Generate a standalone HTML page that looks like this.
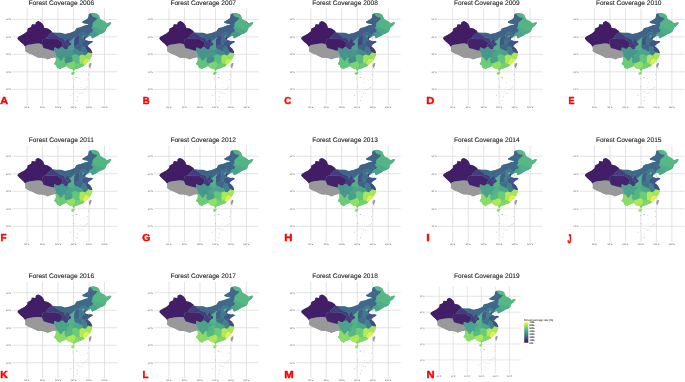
<!DOCTYPE html><html><head><meta charset="utf-8"><style>html,body{margin:0;padding:0;background:#fff;}svg{display:block;will-change:transform;text-rendering:geometricPrecision;font-family:"Liberation Sans",sans-serif;}</style></head><body>
<svg width="685" height="382" viewBox="0 0 685 382">
<rect width="685" height="382" fill="#fff"/>
<defs>
<clipPath id="cl"><path d="M17.40,38.60L18.10,37.10L21.30,35.20L24.40,33.60L27.20,31.20L27.60,28.50L31.10,26.90L31.90,24.20L35.40,24.50L35.80,22.20L38.20,21.00L40.50,22.00L42.50,23.80L43.70,25.70L44.10,27.70L48.00,28.50L51.20,30.80L52.40,32.40L56.30,32.80L61.00,32.80L64.90,34.10L69.70,33.00L74.80,31.10L76.20,28.40L78.10,27.70L80.50,27.20L82.80,26.30L85.20,25.30L87.60,24.80L88.50,24.60L88.00,24.10L86.20,23.70L84.30,23.40L82.40,22.70L82.40,21.50L84.30,20.60L86.20,19.40L87.60,18.50L88.30,17.50L88.70,14.60L89.30,14.00L90.40,13.30L93.70,12.90L97.10,13.80L98.70,15.00L99.60,17.10L100.40,19.20L102.00,20.00L103.60,20.80L105.20,21.80L106.70,23.30L109.90,22.20L111.40,22.50L111.00,23.70L109.10,26.10L106.70,27.70L105.90,30.00L105.20,31.60L102.80,33.20L100.40,33.90L100.00,34.20L97.80,35.70L96.00,36.50L94.50,37.30L93.20,37.90L92.20,38.40L91.50,37.40L91.20,35.90L90.00,35.80L88.50,36.40L87.00,37.40L85.60,38.30L85.00,39.10L85.30,39.70L86.00,40.00L87.30,40.60L88.80,41.20L90.50,40.90L92.20,41.00L92.90,41.70L92.60,42.30L90.80,43.30L89.60,44.00L88.40,45.10L87.60,46.30L88.60,47.20L90.20,48.40L91.30,50.00L91.90,51.20L92.20,52.50L92.30,53.70L92.00,55.50L91.30,57.20L90.40,58.90L89.30,60.50L88.50,61.20L87.30,62.80L86.20,63.70L84.30,65.50L82.90,66.50L80.50,67.40L78.20,68.40L75.80,69.10L74.40,69.80L74.10,71.20L73.20,71.20L73.00,69.80L71.50,69.10L69.20,68.60L68.20,67.90L67.30,67.00L66.00,65.90L65.10,66.70L64.20,67.20L62.30,67.70L60.80,68.60L60.10,69.60L59.00,68.60L57.50,68.20L56.80,67.20L56.10,65.30L54.50,64.60L54.20,63.40L55.20,62.00L55.90,60.10L55.70,57.80L55.00,57.20L53.00,57.70L49.90,58.50L47.50,59.50L45.90,58.50L42.00,57.70L38.10,57.70L35.70,56.50L31.80,54.50L27.90,53.00L25.10,51.00L25.50,49.40L25.10,46.70L23.60,44.60L20.50,41.90L18.50,39.90Z"/></clipPath>
<g id="grid">
<line x1="27.10" y1="8.5" x2="27.10" y2="105" stroke="#d9d9d9" stroke-width="0.75"/>
<line x1="42.58" y1="8.5" x2="42.58" y2="105" stroke="#d9d9d9" stroke-width="0.75"/>
<line x1="58.06" y1="8.5" x2="58.06" y2="105" stroke="#d9d9d9" stroke-width="0.75"/>
<line x1="73.54" y1="8.5" x2="73.54" y2="105" stroke="#d9d9d9" stroke-width="0.75"/>
<line x1="89.02" y1="8.5" x2="89.02" y2="105" stroke="#d9d9d9" stroke-width="0.75"/>
<line x1="104.50" y1="8.5" x2="104.50" y2="105" stroke="#d9d9d9" stroke-width="0.75"/>
<line x1="12.3" y1="19.35" x2="117" y2="19.35" stroke="#d9d9d9" stroke-width="0.75"/>
<line x1="12.3" y1="36.85" x2="117" y2="36.85" stroke="#d9d9d9" stroke-width="0.75"/>
<line x1="12.3" y1="54.35" x2="117" y2="54.35" stroke="#d9d9d9" stroke-width="0.75"/>
<line x1="12.3" y1="71.85" x2="117" y2="71.85" stroke="#d9d9d9" stroke-width="0.75"/>
<line x1="12.3" y1="89.35" x2="117" y2="89.35" stroke="#d9d9d9" stroke-width="0.75"/>
<text x="11.1" y="20.15" text-anchor="end" font-size="2.3" fill="#555">50°N</text>
<text x="11.1" y="37.65" text-anchor="end" font-size="2.3" fill="#555">40°N</text>
<text x="11.1" y="55.15" text-anchor="end" font-size="2.3" fill="#555">30°N</text>
<text x="11.1" y="72.65" text-anchor="end" font-size="2.3" fill="#555">20°N</text>
<text x="11.1" y="90.15" text-anchor="end" font-size="2.3" fill="#555">10°N</text>
<text x="27.10" y="108.1" text-anchor="middle" font-size="2.3" fill="#555">80°E</text>
<text x="42.58" y="108.1" text-anchor="middle" font-size="2.3" fill="#555">90°E</text>
<text x="58.06" y="108.1" text-anchor="middle" font-size="2.3" fill="#555">100°E</text>
<text x="73.54" y="108.1" text-anchor="middle" font-size="2.3" fill="#555">110°E</text>
<text x="89.02" y="108.1" text-anchor="middle" font-size="2.3" fill="#555">120°E</text>
<text x="104.50" y="108.1" text-anchor="middle" font-size="2.3" fill="#555">130°E</text>
<g fill="#999"><rect x="83.1" y="70.3" width="0.6" height="0.4"/><rect x="90.5" y="67.9" width="0.4" height="0.9"/><rect x="88.2" y="73.9" width="0.4" height="1.2"/><rect x="72.7" y="78.0" width="0.4" height="1.2"/><rect x="75.8" y="77.4" width="1.7" height="0.6"/><rect x="79.6" y="78.3" width="0.6" height="0.5"/><rect x="80.8" y="81.9" width="0.5" height="0.4"/><rect x="84.8" y="80.1" width="0.5" height="0.4"/><rect x="87.7" y="79.2" width="0.4" height="1.1"/><rect x="73.3" y="86.1" width="0.4" height="1.2"/><rect x="80.2" y="87.0" width="0.5" height="0.4"/><rect x="82.7" y="89.7" width="0.5" height="0.4"/><rect x="83.7" y="89.1" width="0.5" height="0.4"/><rect x="84.7" y="88.5" width="0.5" height="0.4"/><rect x="85.7" y="87.9" width="0.5" height="0.4"/><rect x="86.6" y="87.3" width="0.5" height="0.4"/><rect x="75.8" y="91.4" width="0.6" height="0.5"/><rect x="77.3" y="92.0" width="0.5" height="0.4"/><rect x="78.3" y="91.5" width="0.5" height="0.4"/><rect x="81.3" y="92.6" width="0.6" height="0.4"/><rect x="82.0" y="93.4" width="0.5" height="0.4"/><rect x="70.4" y="94.7" width="0.4" height="1.2"/><rect x="77.3" y="96.5" width="0.4" height="1.2"/><rect x="76.3" y="100.3" width="1.2" height="0.4"/><rect x="86.2" y="86.9" width="0.5" height="0.4"/><rect x="87.4" y="86.2" width="0.6" height="0.4"/><rect x="73.0" y="93.2" width="0.5" height="0.5"/></g>
<rect x="79.5" y="92.9" width="0.8" height="0.6" fill="#6c6"/>
</g>
<g id="m7">
<g clip-path="url(#cl)">
<path d="M17.40,38.60L18.10,37.10L21.30,35.20L24.40,33.60L27.20,31.20L27.60,28.50L31.10,26.90L31.90,24.20L35.40,24.50L35.80,22.20L38.20,21.00L40.50,22.00L42.50,23.80L43.70,25.70L44.10,27.70L48.00,28.50L51.20,30.80L52.40,32.40L56.30,32.80L61.00,32.80L64.90,34.10L69.70,33.00L74.80,31.10L76.20,28.40L78.10,27.70L80.50,27.20L82.80,26.30L85.20,25.30L87.60,24.80L88.50,24.60L88.00,24.10L86.20,23.70L84.30,23.40L82.40,22.70L82.40,21.50L84.30,20.60L86.20,19.40L87.60,18.50L88.30,17.50L88.70,14.60L89.30,14.00L90.40,13.30L93.70,12.90L97.10,13.80L98.70,15.00L99.60,17.10L100.40,19.20L102.00,20.00L103.60,20.80L105.20,21.80L106.70,23.30L109.90,22.20L111.40,22.50L111.00,23.70L109.10,26.10L106.70,27.70L105.90,30.00L105.20,31.60L102.80,33.20L100.40,33.90L100.00,34.20L97.80,35.70L96.00,36.50L94.50,37.30L93.20,37.90L92.20,38.40L91.50,37.40L91.20,35.90L90.00,35.80L88.50,36.40L87.00,37.40L85.60,38.30L85.00,39.10L85.30,39.70L86.00,40.00L87.30,40.60L88.80,41.20L90.50,40.90L92.20,41.00L92.90,41.70L92.60,42.30L90.80,43.30L89.60,44.00L88.40,45.10L87.60,46.30L88.60,47.20L90.20,48.40L91.30,50.00L91.90,51.20L92.20,52.50L92.30,53.70L92.00,55.50L91.30,57.20L90.40,58.90L89.30,60.50L88.50,61.20L87.30,62.80L86.20,63.70L84.30,65.50L82.90,66.50L80.50,67.40L78.20,68.40L75.80,69.10L74.40,69.80L74.10,71.20L73.20,71.20L73.00,69.80L71.50,69.10L69.20,68.60L68.20,67.90L67.30,67.00L66.00,65.90L65.10,66.70L64.20,67.20L62.30,67.70L60.80,68.60L60.10,69.60L59.00,68.60L57.50,68.20L56.80,67.20L56.10,65.30L54.50,64.60L54.20,63.40L55.20,62.00L55.90,60.10L55.70,57.80L55.00,57.20L53.00,57.70L49.90,58.50L47.50,59.50L45.90,58.50L42.00,57.70L38.10,57.70L35.70,56.50L31.80,54.50L27.90,53.00L25.10,51.00L25.50,49.40L25.10,46.70L23.60,44.60L20.50,41.90L18.50,39.90Z" fill="#438a8c"/>
<path d="M-3.40,54.35L25.00,46.65L27.30,45.08L31.14,44.38L34.98,43.85L38.81,43.50L42.04,44.20L42.19,41.58L42.80,39.65L44.19,38.95L46.03,38.60L47.10,36.50L49.56,34.23L52.17,31.78L51.86,10.60L-3.40,10.60Z" fill="#421b64" stroke="rgba(255,255,255,0.12)" stroke-width="0.25"/>
<path d="M-3.40,71.85L-3.40,54.35L25.00,46.65L27.30,45.08L31.14,44.38L34.98,43.85L38.81,43.50L42.04,44.20L42.80,45.95L43.57,47.88L47.56,48.99L51.40,50.15L54.16,50.67L55.39,52.60L56.16,54.35L56.31,55.75L55.70,56.98L54.62,57.50L53.86,71.85Z" fill="#999999" stroke="rgba(255,255,255,0.12)" stroke-width="0.25"/>
<path d="M42.04,44.20L42.19,41.58L42.80,39.65L44.19,38.95L46.03,38.60L49.25,38.95L54.47,38.95L57.54,39.12L59.69,40.70L61.22,41.58L62.45,42.45L62.61,43.33L62.14,44.55L61.84,45.95L60.76,47.35L59.07,48.92L56.93,48.58L55.39,47.53L54.32,47.70L54.16,49.28L54.16,50.67L51.40,50.15L47.56,48.99L43.57,47.88L42.80,45.95Z" fill="#421d66" stroke="rgba(255,255,255,0.12)" stroke-width="0.25"/>
<path d="M52.17,31.78L54.47,33.88L57.08,35.45L59.23,37.38L61.22,38.08L63.37,38.60L64.75,40.17L64.60,41.40L65.52,41.05L66.60,40.35L67.06,38.95L67.98,38.08L68.59,39.30L68.90,40.53L69.67,41.23L71.20,40.53L73.35,38.60L74.58,37.55L75.19,37.90L75.65,36.33L77.19,36.33L78.72,35.98L79.64,35.80L79.95,34.23L81.02,33.35L82.56,32.48L84.56,32.30L85.63,33.35L87.01,34.75L88.24,35.80L89.47,33.70L90.23,32.65L91.77,32.65L92.69,31.25L93.46,30.73L92.54,28.98L91.31,28.10L92.23,26.87L92.54,26.00L92.84,23.03L94.53,21.28L96.22,20.05L97.45,18.12L96.53,17.49L94.53,17.25L92.54,16.37L91.31,14.62L90.23,12.35L87.16,12.35L51.86,19.35Z" fill="#3f6189" stroke="rgba(255,255,255,0.12)" stroke-width="0.25"/>
<path d="M46.03,38.60L47.10,36.50L49.56,34.23L52.17,31.78L54.47,33.88L57.08,35.45L59.23,37.38L61.22,38.08L63.37,38.60L64.75,40.17L64.60,41.40L65.67,42.45L66.60,43.85L67.82,45.25L68.44,44.20L68.59,42.80L69.51,41.92L71.20,43.15L71.20,45.08L69.67,45.78L68.13,46.83L67.98,48.40L66.60,49.62L65.67,49.62L64.60,49.10L63.37,47.70L62.61,47.00L61.53,47.53L60.76,47.35L61.84,45.95L62.14,44.55L62.61,43.33L62.45,42.45L61.22,41.58L59.69,40.70L57.54,39.12L54.47,38.95L49.25,38.95Z" fill="#43397c" stroke="rgba(255,255,255,0.12)" stroke-width="0.25"/>
<path d="M67.98,38.08L68.59,39.30L68.90,40.53L69.67,41.23L69.51,41.92L68.59,42.80L68.44,44.20L67.82,45.25L66.60,43.85L65.67,42.45L64.60,41.40L65.52,41.05L66.60,40.35L67.06,38.95Z" fill="#433579" stroke="rgba(255,255,255,0.12)" stroke-width="0.25"/>
<path d="M90.23,12.35L91.31,14.62L92.54,16.37L94.53,17.25L96.53,17.49L97.45,18.12L96.22,20.05L94.53,21.28L92.84,23.03L92.54,26.00L93.00,27.05L95.61,28.10L97.91,28.80L99.91,29.85L101.75,30.55L103.28,30.90L104.82,31.08L106.05,31.42L110.19,28.10L113.26,21.10L104.05,10.60Z" fill="#53b385" stroke="rgba(255,255,255,0.12)" stroke-width="0.25"/>
<path d="M92.23,26.87L91.31,28.10L92.54,28.98L93.46,30.73L92.69,31.25L94.07,31.60L95.30,31.95L96.38,33.00L97.60,33.70L97.91,34.75L96.84,36.33L99.44,35.98L106.35,33.35L106.05,31.42L104.82,31.08L103.28,30.90L101.75,30.55L99.91,29.85L97.91,28.80L95.61,28.10L93.00,27.05Z" fill="#4ca689" stroke="rgba(255,255,255,0.12)" stroke-width="0.25"/>
<path d="M88.24,35.80L89.47,33.70L90.23,32.65L91.77,32.65L92.69,31.25L94.07,31.60L95.30,31.95L96.38,33.00L97.60,33.70L97.91,34.75L96.84,36.33L94.84,40.35L90.23,40.35L87.63,37.73Z" fill="#46988c" stroke="rgba(255,255,255,0.12)" stroke-width="0.25"/>
<path d="M79.64,35.80L79.95,34.23L81.02,33.35L82.56,32.48L84.56,32.30L85.63,33.35L87.01,34.75L88.24,35.80L87.63,37.73L86.40,39.48L85.94,40.53L85.32,40.53L83.33,41.40L82.25,42.45L81.64,43.50L80.26,43.67L79.49,43.85L79.03,42.98L78.88,41.23L79.18,39.48L79.49,37.73Z" fill="#3f6a8a" stroke="rgba(255,255,255,0.12)" stroke-width="0.25"/>
<path d="M75.19,37.90L75.65,36.33L77.19,36.33L78.72,35.98L79.64,35.80L79.49,37.73L79.18,39.48L78.88,41.23L79.03,42.98L79.49,43.85L77.95,45.25L76.42,45.42L74.89,46.12L73.81,46.30L74.12,44.73L73.96,42.98L74.12,41.23L74.12,39.48Z" fill="#414883" stroke="rgba(255,255,255,0.12)" stroke-width="0.25"/>
<path d="M69.67,41.23L71.20,40.53L73.35,38.60L74.58,37.55L75.19,37.90L74.12,39.48L74.12,41.23L73.96,42.98L74.12,44.73L73.81,46.30L74.58,47.88L74.89,48.58L74.12,49.62L73.66,49.98L72.43,50.50L72.12,51.38L70.89,50.50L69.05,49.98L67.98,49.62L66.60,49.62L67.98,48.40L68.13,46.83L69.67,45.78L71.20,45.08L71.20,43.15L69.51,41.92Z" fill="#49a08b" stroke="rgba(255,255,255,0.12)" stroke-width="0.25"/>
<path d="M81.64,43.50L82.25,42.45L83.33,41.40L85.32,40.53L85.94,40.53L87.47,40.00L94.84,40.00L94.84,45.60L87.63,45.60L86.86,46.12L85.63,46.30L84.40,46.48L83.17,46.30L82.56,45.60L81.79,44.73Z" fill="#405486" stroke="rgba(255,255,255,0.12)" stroke-width="0.25"/>
<path d="M73.81,46.30L74.89,46.12L76.42,45.42L77.95,45.25L79.49,43.85L80.26,43.67L81.64,43.50L81.79,44.73L82.56,45.60L83.17,46.30L82.56,47.00L81.79,47.53L81.95,48.58L81.49,49.80L81.95,50.33L81.49,51.55L80.26,51.20L79.18,51.03L78.72,50.15L77.19,49.80L75.65,49.10L74.89,48.58L74.58,47.88Z" fill="#3f6189" stroke="rgba(255,255,255,0.12)" stroke-width="0.25"/>
<path d="M83.17,46.30L84.40,46.48L85.63,46.30L86.86,46.12L87.63,45.60L93.30,45.60L93.30,51.73L90.54,51.73L90.23,52.60L89.47,52.78L88.09,52.42L87.47,52.08L87.01,51.20L86.40,50.67L86.70,49.62L85.94,48.75L86.09,47.88L85.32,47.35L84.09,47.00Z" fill="#43397c" stroke="rgba(255,255,255,0.12)" stroke-width="0.25"/>
<path d="M83.17,46.30L84.09,47.00L85.32,47.35L86.09,47.88L85.94,48.75L86.70,49.62L86.40,50.67L87.01,51.20L87.47,52.08L87.93,52.42L87.47,53.48L86.40,54.35L85.63,55.23L84.86,55.40L83.79,55.05L82.56,54.53L82.71,53.48L82.25,52.25L81.49,51.55L81.95,50.33L81.49,49.80L81.95,48.58L81.79,47.53L82.56,47.00Z" fill="#40788b" stroke="rgba(255,255,255,0.12)" stroke-width="0.25"/>
<path d="M90.54,51.73L93.30,51.03L93.30,53.30L91.31,53.12L90.23,53.12L90.23,52.60Z" fill="#433479" stroke="rgba(255,255,255,0.12)" stroke-width="0.25"/>
<path d="M72.12,51.38L72.43,50.50L73.66,49.98L74.12,49.62L74.89,48.58L75.65,49.10L77.19,49.80L78.72,50.15L79.18,51.03L80.26,51.20L81.49,51.55L82.25,52.25L82.71,53.48L82.56,54.53L82.25,54.70L81.02,55.05L79.80,55.40L79.18,55.92L77.95,55.23L76.42,54.70L74.89,54.35L73.35,54.70L72.12,55.40L72.58,54.00L73.66,53.30L73.35,51.90Z" fill="#438a8c" stroke="rgba(255,255,255,0.12)" stroke-width="0.25"/>
<path d="M54.16,50.67L54.16,49.28L54.32,47.70L55.39,47.53L56.93,48.58L59.07,48.92L60.76,47.35L61.53,47.53L62.61,47.00L63.37,47.70L64.60,49.10L65.67,49.62L66.60,49.62L67.98,49.62L69.05,49.98L70.89,50.50L69.97,51.38L68.75,52.60L67.98,53.30L67.21,54.00L66.60,55.05L66.29,55.75L67.06,56.45L67.67,56.98L66.60,57.85L65.98,58.20L65.52,58.55L64.14,57.33L63.22,58.20L62.30,59.78L60.76,61.17L60.15,60.48L59.23,59.25L58.46,58.20L57.23,57.33L56.47,56.80L56.31,55.75L56.16,54.35L55.39,52.60Z" fill="#46958c" stroke="rgba(255,255,255,0.12)" stroke-width="0.25"/>
<path d="M70.89,50.50L72.12,51.38L73.35,51.90L73.66,53.30L72.58,54.00L72.12,55.40L71.51,56.80L70.74,57.33L69.51,56.45L68.75,56.98L67.67,56.98L67.06,56.45L66.29,55.75L66.60,55.05L67.21,54.00L67.98,53.30L68.75,52.60L69.97,51.38Z" fill="#46978c" stroke="rgba(255,255,255,0.12)" stroke-width="0.25"/>
<path d="M67.67,56.98L68.75,56.98L69.51,56.45L70.74,57.33L71.51,56.80L72.58,57.85L72.28,59.60L72.43,60.83L71.81,61.70L70.28,62.23L69.51,62.58L67.98,63.10L66.44,63.62L65.98,63.45L65.06,62.58L64.60,60.83L64.14,59.25L65.52,58.55L65.98,58.20L66.60,57.85Z" fill="#438c8c" stroke="rgba(255,255,255,0.12)" stroke-width="0.25"/>
<path d="M56.31,55.75L56.47,56.80L57.23,57.33L58.46,58.20L59.23,59.25L60.15,60.48L60.76,61.17L62.30,59.78L63.22,58.20L64.14,57.33L65.52,58.55L64.14,59.25L64.60,60.83L65.06,62.58L65.98,63.45L66.44,64.85L66.60,66.08L66.60,68.35L58.00,75.35L50.33,68.35L53.86,57.85L54.62,57.50L55.70,56.98Z" fill="#62c47c" stroke="rgba(255,255,255,0.12)" stroke-width="0.25"/>
<path d="M71.51,56.80L72.12,55.40L73.35,54.70L74.89,54.35L76.42,54.70L77.95,55.23L79.18,55.92L79.80,55.40L79.34,56.98L79.64,58.73L79.18,60.48L79.49,62.23L79.34,62.40L77.95,63.10L76.88,63.45L76.11,63.45L75.65,63.45L74.89,62.23L74.12,61.35L72.58,61.35L71.81,61.70L72.43,60.83L72.28,59.60L72.58,57.85Z" fill="#58bb82" stroke="rgba(255,255,255,0.12)" stroke-width="0.25"/>
<path d="M79.80,55.40L81.02,55.05L82.25,54.70L82.56,54.53L83.79,55.05L84.86,55.40L85.63,55.23L86.40,56.45L86.09,57.50L84.86,58.73L84.09,59.60L83.33,60.83L82.87,62.23L82.56,63.10L82.25,63.80L81.02,63.80L80.26,63.98L79.80,63.10L79.34,62.40L79.49,62.23L79.18,60.48L79.64,58.73L79.34,56.98Z" fill="#a0e45b" stroke="rgba(255,255,255,0.12)" stroke-width="0.25"/>
<path d="M85.63,55.23L86.40,54.35L87.47,53.48L87.93,52.42L88.09,52.42L89.47,52.78L90.23,53.12L91.31,53.12L93.30,53.30L93.30,59.60L89.62,59.25L89.01,59.08L88.09,58.55L87.16,58.38L86.09,57.50L86.40,56.45Z" fill="#98e15f" stroke="rgba(255,255,255,0.12)" stroke-width="0.25"/>
<path d="M86.09,57.50L87.16,58.38L88.09,58.55L89.01,59.08L89.62,59.25L93.30,59.60L87.16,68.35L84.40,65.72L84.09,65.38L83.33,64.33L82.25,63.80L82.56,63.10L82.87,62.23L83.33,60.83L84.09,59.60L84.86,58.73Z" fill="#c4ed50" stroke="rgba(255,255,255,0.12)" stroke-width="0.25"/>
<path d="M76.11,63.45L76.88,63.45L77.95,63.10L79.34,62.40L79.80,63.10L80.26,63.98L81.02,63.80L82.25,63.80L83.33,64.33L84.09,65.38L84.40,65.72L87.16,68.35L76.42,75.35L72.28,72.55L72.74,69.05L73.35,68.35L74.58,67.47L75.65,66.25L75.65,64.85Z" fill="#6aca77" stroke="rgba(255,255,255,0.12)" stroke-width="0.25"/>
<path d="M65.98,63.45L66.44,63.62L67.98,63.10L69.51,62.58L70.28,62.23L71.81,61.70L72.58,61.35L74.12,61.35L74.89,62.23L75.65,63.45L76.11,63.45L75.65,64.85L75.65,66.25L74.58,67.47L73.35,68.35L72.74,69.05L71.05,73.60L66.60,68.35L66.60,66.08L66.44,64.85Z" fill="#7ad56e" stroke="rgba(255,255,255,0.12)" stroke-width="0.25"/>
<path d="M81.79,36.85L82.56,35.62L83.79,35.10L84.71,35.80L84.40,36.67L83.48,37.38L82.71,37.73L81.95,37.55Z" fill="#438d8c" stroke="rgba(255,255,255,0.12)" stroke-width="0.25"/>
<path d="M84.40,36.50L85.02,36.85L85.32,37.73L85.78,38.42L85.17,39.30L84.56,39.48L83.94,38.78L84.25,37.90Z" fill="#432f75" stroke="rgba(255,255,255,0.12)" stroke-width="0.25"/>
</g>
<path d="M71.20,73.25L71.35,74.47L72.74,75.00L74.12,74.12L74.89,72.55L74.27,71.67L72.89,71.85L71.97,72.20Z" fill="#77d36f"/>
<path d="M90.23,62.92L91.62,63.10L91.16,65.72L89.93,68.35L89.01,66.95L88.85,65.20L89.77,63.62Z" fill="#999999"/>
</g>
<g id="m8">
<g clip-path="url(#cl)">
<path d="M17.40,38.60L18.10,37.10L21.30,35.20L24.40,33.60L27.20,31.20L27.60,28.50L31.10,26.90L31.90,24.20L35.40,24.50L35.80,22.20L38.20,21.00L40.50,22.00L42.50,23.80L43.70,25.70L44.10,27.70L48.00,28.50L51.20,30.80L52.40,32.40L56.30,32.80L61.00,32.80L64.90,34.10L69.70,33.00L74.80,31.10L76.20,28.40L78.10,27.70L80.50,27.20L82.80,26.30L85.20,25.30L87.60,24.80L88.50,24.60L88.00,24.10L86.20,23.70L84.30,23.40L82.40,22.70L82.40,21.50L84.30,20.60L86.20,19.40L87.60,18.50L88.30,17.50L88.70,14.60L89.30,14.00L90.40,13.30L93.70,12.90L97.10,13.80L98.70,15.00L99.60,17.10L100.40,19.20L102.00,20.00L103.60,20.80L105.20,21.80L106.70,23.30L109.90,22.20L111.40,22.50L111.00,23.70L109.10,26.10L106.70,27.70L105.90,30.00L105.20,31.60L102.80,33.20L100.40,33.90L100.00,34.20L97.80,35.70L96.00,36.50L94.50,37.30L93.20,37.90L92.20,38.40L91.50,37.40L91.20,35.90L90.00,35.80L88.50,36.40L87.00,37.40L85.60,38.30L85.00,39.10L85.30,39.70L86.00,40.00L87.30,40.60L88.80,41.20L90.50,40.90L92.20,41.00L92.90,41.70L92.60,42.30L90.80,43.30L89.60,44.00L88.40,45.10L87.60,46.30L88.60,47.20L90.20,48.40L91.30,50.00L91.90,51.20L92.20,52.50L92.30,53.70L92.00,55.50L91.30,57.20L90.40,58.90L89.30,60.50L88.50,61.20L87.30,62.80L86.20,63.70L84.30,65.50L82.90,66.50L80.50,67.40L78.20,68.40L75.80,69.10L74.40,69.80L74.10,71.20L73.20,71.20L73.00,69.80L71.50,69.10L69.20,68.60L68.20,67.90L67.30,67.00L66.00,65.90L65.10,66.70L64.20,67.20L62.30,67.70L60.80,68.60L60.10,69.60L59.00,68.60L57.50,68.20L56.80,67.20L56.10,65.30L54.50,64.60L54.20,63.40L55.20,62.00L55.90,60.10L55.70,57.80L55.00,57.20L53.00,57.70L49.90,58.50L47.50,59.50L45.90,58.50L42.00,57.70L38.10,57.70L35.70,56.50L31.80,54.50L27.90,53.00L25.10,51.00L25.50,49.40L25.10,46.70L23.60,44.60L20.50,41.90L18.50,39.90Z" fill="#4ba48a"/>
<path d="M-3.40,54.35L25.00,46.65L27.30,45.08L31.14,44.38L34.98,43.85L38.81,43.50L42.04,44.20L42.19,41.58L42.80,39.65L44.19,38.95L46.03,38.60L47.10,36.50L49.56,34.23L52.17,31.78L51.86,10.60L-3.40,10.60Z" fill="#421c65" stroke="rgba(255,255,255,0.12)" stroke-width="0.25"/>
<path d="M-3.40,71.85L-3.40,54.35L25.00,46.65L27.30,45.08L31.14,44.38L34.98,43.85L38.81,43.50L42.04,44.20L42.80,45.95L43.57,47.88L47.56,48.99L51.40,50.15L54.16,50.67L55.39,52.60L56.16,54.35L56.31,55.75L55.70,56.98L54.62,57.50L53.86,71.85Z" fill="#999999" stroke="rgba(255,255,255,0.12)" stroke-width="0.25"/>
<path d="M42.04,44.20L42.19,41.58L42.80,39.65L44.19,38.95L46.03,38.60L49.25,38.95L54.47,38.95L57.54,39.12L59.69,40.70L61.22,41.58L62.45,42.45L62.61,43.33L62.14,44.55L61.84,45.95L60.76,47.35L59.07,48.92L56.93,48.58L55.39,47.53L54.32,47.70L54.16,49.28L54.16,50.67L51.40,50.15L47.56,48.99L43.57,47.88L42.80,45.95Z" fill="#43226b" stroke="rgba(255,255,255,0.12)" stroke-width="0.25"/>
<path d="M52.17,31.78L54.47,33.88L57.08,35.45L59.23,37.38L61.22,38.08L63.37,38.60L64.75,40.17L64.60,41.40L65.52,41.05L66.60,40.35L67.06,38.95L67.98,38.08L68.59,39.30L68.90,40.53L69.67,41.23L71.20,40.53L73.35,38.60L74.58,37.55L75.19,37.90L75.65,36.33L77.19,36.33L78.72,35.98L79.64,35.80L79.95,34.23L81.02,33.35L82.56,32.48L84.56,32.30L85.63,33.35L87.01,34.75L88.24,35.80L89.47,33.70L90.23,32.65L91.77,32.65L92.69,31.25L93.46,30.73L92.54,28.98L91.31,28.10L92.23,26.87L92.54,26.00L92.84,23.03L94.53,21.28L96.22,20.05L97.45,18.12L96.53,17.49L94.53,17.25L92.54,16.37L91.31,14.62L90.23,12.35L87.16,12.35L51.86,19.35Z" fill="#3f6489" stroke="rgba(255,255,255,0.12)" stroke-width="0.25"/>
<path d="M46.03,38.60L47.10,36.50L49.56,34.23L52.17,31.78L54.47,33.88L57.08,35.45L59.23,37.38L61.22,38.08L63.37,38.60L64.75,40.17L64.60,41.40L65.67,42.45L66.60,43.85L67.82,45.25L68.44,44.20L68.59,42.80L69.51,41.92L71.20,43.15L71.20,45.08L69.67,45.78L68.13,46.83L67.98,48.40L66.60,49.62L65.67,49.62L64.60,49.10L63.37,47.70L62.61,47.00L61.53,47.53L60.76,47.35L61.84,45.95L62.14,44.55L62.61,43.33L62.45,42.45L61.22,41.58L59.69,40.70L57.54,39.12L54.47,38.95L49.25,38.95Z" fill="#433c7e" stroke="rgba(255,255,255,0.12)" stroke-width="0.25"/>
<path d="M67.98,38.08L68.59,39.30L68.90,40.53L69.67,41.23L69.51,41.92L68.59,42.80L68.44,44.20L67.82,45.25L66.60,43.85L65.67,42.45L64.60,41.40L65.52,41.05L66.60,40.35L67.06,38.95Z" fill="#423f7f" stroke="rgba(255,255,255,0.12)" stroke-width="0.25"/>
<path d="M90.23,12.35L91.31,14.62L92.54,16.37L94.53,17.25L96.53,17.49L97.45,18.12L96.22,20.05L94.53,21.28L92.84,23.03L92.54,26.00L93.00,27.05L95.61,28.10L97.91,28.80L99.91,29.85L101.75,30.55L103.28,30.90L104.82,31.08L106.05,31.42L110.19,28.10L113.26,21.10L104.05,10.60Z" fill="#54b584" stroke="rgba(255,255,255,0.12)" stroke-width="0.25"/>
<path d="M92.23,26.87L91.31,28.10L92.54,28.98L93.46,30.73L92.69,31.25L94.07,31.60L95.30,31.95L96.38,33.00L97.60,33.70L97.91,34.75L96.84,36.33L99.44,35.98L106.35,33.35L106.05,31.42L104.82,31.08L103.28,30.90L101.75,30.55L99.91,29.85L97.91,28.80L95.61,28.10L93.00,27.05Z" fill="#4eab88" stroke="rgba(255,255,255,0.12)" stroke-width="0.25"/>
<path d="M88.24,35.80L89.47,33.70L90.23,32.65L91.77,32.65L92.69,31.25L94.07,31.60L95.30,31.95L96.38,33.00L97.60,33.70L97.91,34.75L96.84,36.33L94.84,40.35L90.23,40.35L87.63,37.73Z" fill="#4aa38a" stroke="rgba(255,255,255,0.12)" stroke-width="0.25"/>
<path d="M79.64,35.80L79.95,34.23L81.02,33.35L82.56,32.48L84.56,32.30L85.63,33.35L87.01,34.75L88.24,35.80L87.63,37.73L86.40,39.48L85.94,40.53L85.32,40.53L83.33,41.40L82.25,42.45L81.64,43.50L80.26,43.67L79.49,43.85L79.03,42.98L78.88,41.23L79.18,39.48L79.49,37.73Z" fill="#3f6e8a" stroke="rgba(255,255,255,0.12)" stroke-width="0.25"/>
<path d="M75.19,37.90L75.65,36.33L77.19,36.33L78.72,35.98L79.64,35.80L79.49,37.73L79.18,39.48L78.88,41.23L79.03,42.98L79.49,43.85L77.95,45.25L76.42,45.42L74.89,46.12L73.81,46.30L74.12,44.73L73.96,42.98L74.12,41.23L74.12,39.48Z" fill="#3f5887" stroke="rgba(255,255,255,0.12)" stroke-width="0.25"/>
<path d="M69.67,41.23L71.20,40.53L73.35,38.60L74.58,37.55L75.19,37.90L74.12,39.48L74.12,41.23L73.96,42.98L74.12,44.73L73.81,46.30L74.58,47.88L74.89,48.58L74.12,49.62L73.66,49.98L72.43,50.50L72.12,51.38L70.89,50.50L69.05,49.98L67.98,49.62L66.60,49.62L67.98,48.40L68.13,46.83L69.67,45.78L71.20,45.08L71.20,43.15L69.51,41.92Z" fill="#50af87" stroke="rgba(255,255,255,0.12)" stroke-width="0.25"/>
<path d="M81.64,43.50L82.25,42.45L83.33,41.40L85.32,40.53L85.94,40.53L87.47,40.00L94.84,40.00L94.84,45.60L87.63,45.60L86.86,46.12L85.63,46.30L84.40,46.48L83.17,46.30L82.56,45.60L81.79,44.73Z" fill="#405486" stroke="rgba(255,255,255,0.12)" stroke-width="0.25"/>
<path d="M73.81,46.30L74.89,46.12L76.42,45.42L77.95,45.25L79.49,43.85L80.26,43.67L81.64,43.50L81.79,44.73L82.56,45.60L83.17,46.30L82.56,47.00L81.79,47.53L81.95,48.58L81.49,49.80L81.95,50.33L81.49,51.55L80.26,51.20L79.18,51.03L78.72,50.15L77.19,49.80L75.65,49.10L74.89,48.58L74.58,47.88Z" fill="#3f668a" stroke="rgba(255,255,255,0.12)" stroke-width="0.25"/>
<path d="M83.17,46.30L84.40,46.48L85.63,46.30L86.86,46.12L87.63,45.60L93.30,45.60L93.30,51.73L90.54,51.73L90.23,52.60L89.47,52.78L88.09,52.42L87.47,52.08L87.01,51.20L86.40,50.67L86.70,49.62L85.94,48.75L86.09,47.88L85.32,47.35L84.09,47.00Z" fill="#404f85" stroke="rgba(255,255,255,0.12)" stroke-width="0.25"/>
<path d="M83.17,46.30L84.09,47.00L85.32,47.35L86.09,47.88L85.94,48.75L86.70,49.62L86.40,50.67L87.01,51.20L87.47,52.08L87.93,52.42L87.47,53.48L86.40,54.35L85.63,55.23L84.86,55.40L83.79,55.05L82.56,54.53L82.71,53.48L82.25,52.25L81.49,51.55L81.95,50.33L81.49,49.80L81.95,48.58L81.79,47.53L82.56,47.00Z" fill="#407d8c" stroke="rgba(255,255,255,0.12)" stroke-width="0.25"/>
<path d="M90.54,51.73L93.30,51.03L93.30,53.30L91.31,53.12L90.23,53.12L90.23,52.60Z" fill="#433a7c" stroke="rgba(255,255,255,0.12)" stroke-width="0.25"/>
<path d="M72.12,51.38L72.43,50.50L73.66,49.98L74.12,49.62L74.89,48.58L75.65,49.10L77.19,49.80L78.72,50.15L79.18,51.03L80.26,51.20L81.49,51.55L82.25,52.25L82.71,53.48L82.56,54.53L82.25,54.70L81.02,55.05L79.80,55.40L79.18,55.92L77.95,55.23L76.42,54.70L74.89,54.35L73.35,54.70L72.12,55.40L72.58,54.00L73.66,53.30L73.35,51.90Z" fill="#4ba48a" stroke="rgba(255,255,255,0.12)" stroke-width="0.25"/>
<path d="M54.16,50.67L54.16,49.28L54.32,47.70L55.39,47.53L56.93,48.58L59.07,48.92L60.76,47.35L61.53,47.53L62.61,47.00L63.37,47.70L64.60,49.10L65.67,49.62L66.60,49.62L67.98,49.62L69.05,49.98L70.89,50.50L69.97,51.38L68.75,52.60L67.98,53.30L67.21,54.00L66.60,55.05L66.29,55.75L67.06,56.45L67.67,56.98L66.60,57.85L65.98,58.20L65.52,58.55L64.14,57.33L63.22,58.20L62.30,59.78L60.76,61.17L60.15,60.48L59.23,59.25L58.46,58.20L57.23,57.33L56.47,56.80L56.31,55.75L56.16,54.35L55.39,52.60Z" fill="#46988c" stroke="rgba(255,255,255,0.12)" stroke-width="0.25"/>
<path d="M70.89,50.50L72.12,51.38L73.35,51.90L73.66,53.30L72.58,54.00L72.12,55.40L71.51,56.80L70.74,57.33L69.51,56.45L68.75,56.98L67.67,56.98L67.06,56.45L66.29,55.75L66.60,55.05L67.21,54.00L67.98,53.30L68.75,52.60L69.97,51.38Z" fill="#4ba48a" stroke="rgba(255,255,255,0.12)" stroke-width="0.25"/>
<path d="M67.67,56.98L68.75,56.98L69.51,56.45L70.74,57.33L71.51,56.80L72.58,57.85L72.28,59.60L72.43,60.83L71.81,61.70L70.28,62.23L69.51,62.58L67.98,63.10L66.44,63.62L65.98,63.45L65.06,62.58L64.60,60.83L64.14,59.25L65.52,58.55L65.98,58.20L66.60,57.85Z" fill="#499f8b" stroke="rgba(255,255,255,0.12)" stroke-width="0.25"/>
<path d="M56.31,55.75L56.47,56.80L57.23,57.33L58.46,58.20L59.23,59.25L60.15,60.48L60.76,61.17L62.30,59.78L63.22,58.20L64.14,57.33L65.52,58.55L64.14,59.25L64.60,60.83L65.06,62.58L65.98,63.45L66.44,64.85L66.60,66.08L66.60,68.35L58.00,75.35L50.33,68.35L53.86,57.85L54.62,57.50L55.70,56.98Z" fill="#6ccc76" stroke="rgba(255,255,255,0.12)" stroke-width="0.25"/>
<path d="M71.51,56.80L72.12,55.40L73.35,54.70L74.89,54.35L76.42,54.70L77.95,55.23L79.18,55.92L79.80,55.40L79.34,56.98L79.64,58.73L79.18,60.48L79.49,62.23L79.34,62.40L77.95,63.10L76.88,63.45L76.11,63.45L75.65,63.45L74.89,62.23L74.12,61.35L72.58,61.35L71.81,61.70L72.43,60.83L72.28,59.60L72.58,57.85Z" fill="#63c57b" stroke="rgba(255,255,255,0.12)" stroke-width="0.25"/>
<path d="M79.80,55.40L81.02,55.05L82.25,54.70L82.56,54.53L83.79,55.05L84.86,55.40L85.63,55.23L86.40,56.45L86.09,57.50L84.86,58.73L84.09,59.60L83.33,60.83L82.87,62.23L82.56,63.10L82.25,63.80L81.02,63.80L80.26,63.98L79.80,63.10L79.34,62.40L79.49,62.23L79.18,60.48L79.64,58.73L79.34,56.98Z" fill="#ace756" stroke="rgba(255,255,255,0.12)" stroke-width="0.25"/>
<path d="M85.63,55.23L86.40,54.35L87.47,53.48L87.93,52.42L88.09,52.42L89.47,52.78L90.23,53.12L91.31,53.12L93.30,53.30L93.30,59.60L89.62,59.25L89.01,59.08L88.09,58.55L87.16,58.38L86.09,57.50L86.40,56.45Z" fill="#a6e659" stroke="rgba(255,255,255,0.12)" stroke-width="0.25"/>
<path d="M86.09,57.50L87.16,58.38L88.09,58.55L89.01,59.08L89.62,59.25L93.30,59.60L87.16,68.35L84.40,65.72L84.09,65.38L83.33,64.33L82.25,63.80L82.56,63.10L82.87,62.23L83.33,60.83L84.09,59.60L84.86,58.73Z" fill="#dcf24e" stroke="rgba(255,255,255,0.12)" stroke-width="0.25"/>
<path d="M76.11,63.45L76.88,63.45L77.95,63.10L79.34,62.40L79.80,63.10L80.26,63.98L81.02,63.80L82.25,63.80L83.33,64.33L84.09,65.38L84.40,65.72L87.16,68.35L76.42,75.35L72.28,72.55L72.74,69.05L73.35,68.35L74.58,67.47L75.65,66.25L75.65,64.85Z" fill="#73d172" stroke="rgba(255,255,255,0.12)" stroke-width="0.25"/>
<path d="M65.98,63.45L66.44,63.62L67.98,63.10L69.51,62.58L70.28,62.23L71.81,61.70L72.58,61.35L74.12,61.35L74.89,62.23L75.65,63.45L76.11,63.45L75.65,64.85L75.65,66.25L74.58,67.47L73.35,68.35L72.74,69.05L71.05,73.60L66.60,68.35L66.60,66.08L66.44,64.85Z" fill="#92df61" stroke="rgba(255,255,255,0.12)" stroke-width="0.25"/>
<path d="M81.79,36.85L82.56,35.62L83.79,35.10L84.71,35.80L84.40,36.67L83.48,37.38L82.71,37.73L81.95,37.55Z" fill="#479b8b" stroke="rgba(255,255,255,0.12)" stroke-width="0.25"/>
<path d="M84.40,36.50L85.02,36.85L85.32,37.73L85.78,38.42L85.17,39.30L84.56,39.48L83.94,38.78L84.25,37.90Z" fill="#43367a" stroke="rgba(255,255,255,0.12)" stroke-width="0.25"/>
</g>
<path d="M71.20,73.25L71.35,74.47L72.74,75.00L74.12,74.12L74.89,72.55L74.27,71.67L72.89,71.85L71.97,72.20Z" fill="#8bdc65"/>
<path d="M90.23,62.92L91.62,63.10L91.16,65.72L89.93,68.35L89.01,66.95L88.85,65.20L89.77,63.62Z" fill="#999999"/>
</g>
<g id="m9">
<g clip-path="url(#cl)">
<path d="M17.40,38.60L18.10,37.10L21.30,35.20L24.40,33.60L27.20,31.20L27.60,28.50L31.10,26.90L31.90,24.20L35.40,24.50L35.80,22.20L38.20,21.00L40.50,22.00L42.50,23.80L43.70,25.70L44.10,27.70L48.00,28.50L51.20,30.80L52.40,32.40L56.30,32.80L61.00,32.80L64.90,34.10L69.70,33.00L74.80,31.10L76.20,28.40L78.10,27.70L80.50,27.20L82.80,26.30L85.20,25.30L87.60,24.80L88.50,24.60L88.00,24.10L86.20,23.70L84.30,23.40L82.40,22.70L82.40,21.50L84.30,20.60L86.20,19.40L87.60,18.50L88.30,17.50L88.70,14.60L89.30,14.00L90.40,13.30L93.70,12.90L97.10,13.80L98.70,15.00L99.60,17.10L100.40,19.20L102.00,20.00L103.60,20.80L105.20,21.80L106.70,23.30L109.90,22.20L111.40,22.50L111.00,23.70L109.10,26.10L106.70,27.70L105.90,30.00L105.20,31.60L102.80,33.20L100.40,33.90L100.00,34.20L97.80,35.70L96.00,36.50L94.50,37.30L93.20,37.90L92.20,38.40L91.50,37.40L91.20,35.90L90.00,35.80L88.50,36.40L87.00,37.40L85.60,38.30L85.00,39.10L85.30,39.70L86.00,40.00L87.30,40.60L88.80,41.20L90.50,40.90L92.20,41.00L92.90,41.70L92.60,42.30L90.80,43.30L89.60,44.00L88.40,45.10L87.60,46.30L88.60,47.20L90.20,48.40L91.30,50.00L91.90,51.20L92.20,52.50L92.30,53.70L92.00,55.50L91.30,57.20L90.40,58.90L89.30,60.50L88.50,61.20L87.30,62.80L86.20,63.70L84.30,65.50L82.90,66.50L80.50,67.40L78.20,68.40L75.80,69.10L74.40,69.80L74.10,71.20L73.20,71.20L73.00,69.80L71.50,69.10L69.20,68.60L68.20,67.90L67.30,67.00L66.00,65.90L65.10,66.70L64.20,67.20L62.30,67.70L60.80,68.60L60.10,69.60L59.00,68.60L57.50,68.20L56.80,67.20L56.10,65.30L54.50,64.60L54.20,63.40L55.20,62.00L55.90,60.10L55.70,57.80L55.00,57.20L53.00,57.70L49.90,58.50L47.50,59.50L45.90,58.50L42.00,57.70L38.10,57.70L35.70,56.50L31.80,54.50L27.90,53.00L25.10,51.00L25.50,49.40L25.10,46.70L23.60,44.60L20.50,41.90L18.50,39.90Z" fill="#4ca889"/>
<path d="M-3.40,54.35L25.00,46.65L27.30,45.08L31.14,44.38L34.98,43.85L38.81,43.50L42.04,44.20L42.19,41.58L42.80,39.65L44.19,38.95L46.03,38.60L47.10,36.50L49.56,34.23L52.17,31.78L51.86,10.60L-3.40,10.60Z" fill="#421e68" stroke="rgba(255,255,255,0.12)" stroke-width="0.25"/>
<path d="M-3.40,71.85L-3.40,54.35L25.00,46.65L27.30,45.08L31.14,44.38L34.98,43.85L38.81,43.50L42.04,44.20L42.80,45.95L43.57,47.88L47.56,48.99L51.40,50.15L54.16,50.67L55.39,52.60L56.16,54.35L56.31,55.75L55.70,56.98L54.62,57.50L53.86,71.85Z" fill="#999999" stroke="rgba(255,255,255,0.12)" stroke-width="0.25"/>
<path d="M42.04,44.20L42.19,41.58L42.80,39.65L44.19,38.95L46.03,38.60L49.25,38.95L54.47,38.95L57.54,39.12L59.69,40.70L61.22,41.58L62.45,42.45L62.61,43.33L62.14,44.55L61.84,45.95L60.76,47.35L59.07,48.92L56.93,48.58L55.39,47.53L54.32,47.70L54.16,49.28L54.16,50.67L51.40,50.15L47.56,48.99L43.57,47.88L42.80,45.95Z" fill="#43236c" stroke="rgba(255,255,255,0.12)" stroke-width="0.25"/>
<path d="M52.17,31.78L54.47,33.88L57.08,35.45L59.23,37.38L61.22,38.08L63.37,38.60L64.75,40.17L64.60,41.40L65.52,41.05L66.60,40.35L67.06,38.95L67.98,38.08L68.59,39.30L68.90,40.53L69.67,41.23L71.20,40.53L73.35,38.60L74.58,37.55L75.19,37.90L75.65,36.33L77.19,36.33L78.72,35.98L79.64,35.80L79.95,34.23L81.02,33.35L82.56,32.48L84.56,32.30L85.63,33.35L87.01,34.75L88.24,35.80L89.47,33.70L90.23,32.65L91.77,32.65L92.69,31.25L93.46,30.73L92.54,28.98L91.31,28.10L92.23,26.87L92.54,26.00L92.84,23.03L94.53,21.28L96.22,20.05L97.45,18.12L96.53,17.49L94.53,17.25L92.54,16.37L91.31,14.62L90.23,12.35L87.16,12.35L51.86,19.35Z" fill="#3f698a" stroke="rgba(255,255,255,0.12)" stroke-width="0.25"/>
<path d="M46.03,38.60L47.10,36.50L49.56,34.23L52.17,31.78L54.47,33.88L57.08,35.45L59.23,37.38L61.22,38.08L63.37,38.60L64.75,40.17L64.60,41.40L65.67,42.45L66.60,43.85L67.82,45.25L68.44,44.20L68.59,42.80L69.51,41.92L71.20,43.15L71.20,45.08L69.67,45.78L68.13,46.83L67.98,48.40L66.60,49.62L65.67,49.62L64.60,49.10L63.37,47.70L62.61,47.00L61.53,47.53L60.76,47.35L61.84,45.95L62.14,44.55L62.61,43.33L62.45,42.45L61.22,41.58L59.69,40.70L57.54,39.12L54.47,38.95L49.25,38.95Z" fill="#433c7e" stroke="rgba(255,255,255,0.12)" stroke-width="0.25"/>
<path d="M67.98,38.08L68.59,39.30L68.90,40.53L69.67,41.23L69.51,41.92L68.59,42.80L68.44,44.20L67.82,45.25L66.60,43.85L65.67,42.45L64.60,41.40L65.52,41.05L66.60,40.35L67.06,38.95Z" fill="#424280" stroke="rgba(255,255,255,0.12)" stroke-width="0.25"/>
<path d="M90.23,12.35L91.31,14.62L92.54,16.37L94.53,17.25L96.53,17.49L97.45,18.12L96.22,20.05L94.53,21.28L92.84,23.03L92.54,26.00L93.00,27.05L95.61,28.10L97.91,28.80L99.91,29.85L101.75,30.55L103.28,30.90L104.82,31.08L106.05,31.42L110.19,28.10L113.26,21.10L104.05,10.60Z" fill="#56b883" stroke="rgba(255,255,255,0.12)" stroke-width="0.25"/>
<path d="M92.23,26.87L91.31,28.10L92.54,28.98L93.46,30.73L92.69,31.25L94.07,31.60L95.30,31.95L96.38,33.00L97.60,33.70L97.91,34.75L96.84,36.33L99.44,35.98L106.35,33.35L106.05,31.42L104.82,31.08L103.28,30.90L101.75,30.55L99.91,29.85L97.91,28.80L95.61,28.10L93.00,27.05Z" fill="#50af87" stroke="rgba(255,255,255,0.12)" stroke-width="0.25"/>
<path d="M88.24,35.80L89.47,33.70L90.23,32.65L91.77,32.65L92.69,31.25L94.07,31.60L95.30,31.95L96.38,33.00L97.60,33.70L97.91,34.75L96.84,36.33L94.84,40.35L90.23,40.35L87.63,37.73Z" fill="#4ca789" stroke="rgba(255,255,255,0.12)" stroke-width="0.25"/>
<path d="M79.64,35.80L79.95,34.23L81.02,33.35L82.56,32.48L84.56,32.30L85.63,33.35L87.01,34.75L88.24,35.80L87.63,37.73L86.40,39.48L85.94,40.53L85.32,40.53L83.33,41.40L82.25,42.45L81.64,43.50L80.26,43.67L79.49,43.85L79.03,42.98L78.88,41.23L79.18,39.48L79.49,37.73Z" fill="#407a8c" stroke="rgba(255,255,255,0.12)" stroke-width="0.25"/>
<path d="M75.19,37.90L75.65,36.33L77.19,36.33L78.72,35.98L79.64,35.80L79.49,37.73L79.18,39.48L78.88,41.23L79.03,42.98L79.49,43.85L77.95,45.25L76.42,45.42L74.89,46.12L73.81,46.30L74.12,44.73L73.96,42.98L74.12,41.23L74.12,39.48Z" fill="#3f6289" stroke="rgba(255,255,255,0.12)" stroke-width="0.25"/>
<path d="M69.67,41.23L71.20,40.53L73.35,38.60L74.58,37.55L75.19,37.90L74.12,39.48L74.12,41.23L73.96,42.98L74.12,44.73L73.81,46.30L74.58,47.88L74.89,48.58L74.12,49.62L73.66,49.98L72.43,50.50L72.12,51.38L70.89,50.50L69.05,49.98L67.98,49.62L66.60,49.62L67.98,48.40L68.13,46.83L69.67,45.78L71.20,45.08L71.20,43.15L69.51,41.92Z" fill="#54b584" stroke="rgba(255,255,255,0.12)" stroke-width="0.25"/>
<path d="M81.64,43.50L82.25,42.45L83.33,41.40L85.32,40.53L85.94,40.53L87.47,40.00L94.84,40.00L94.84,45.60L87.63,45.60L86.86,46.12L85.63,46.30L84.40,46.48L83.17,46.30L82.56,45.60L81.79,44.73Z" fill="#405787" stroke="rgba(255,255,255,0.12)" stroke-width="0.25"/>
<path d="M73.81,46.30L74.89,46.12L76.42,45.42L77.95,45.25L79.49,43.85L80.26,43.67L81.64,43.50L81.79,44.73L82.56,45.60L83.17,46.30L82.56,47.00L81.79,47.53L81.95,48.58L81.49,49.80L81.95,50.33L81.49,51.55L80.26,51.20L79.18,51.03L78.72,50.15L77.19,49.80L75.65,49.10L74.89,48.58L74.58,47.88Z" fill="#3f718b" stroke="rgba(255,255,255,0.12)" stroke-width="0.25"/>
<path d="M83.17,46.30L84.40,46.48L85.63,46.30L86.86,46.12L87.63,45.60L93.30,45.60L93.30,51.73L90.54,51.73L90.23,52.60L89.47,52.78L88.09,52.42L87.47,52.08L87.01,51.20L86.40,50.67L86.70,49.62L85.94,48.75L86.09,47.88L85.32,47.35L84.09,47.00Z" fill="#414d84" stroke="rgba(255,255,255,0.12)" stroke-width="0.25"/>
<path d="M83.17,46.30L84.09,47.00L85.32,47.35L86.09,47.88L85.94,48.75L86.70,49.62L86.40,50.67L87.01,51.20L87.47,52.08L87.93,52.42L87.47,53.48L86.40,54.35L85.63,55.23L84.86,55.40L83.79,55.05L82.56,54.53L82.71,53.48L82.25,52.25L81.49,51.55L81.95,50.33L81.49,49.80L81.95,48.58L81.79,47.53L82.56,47.00Z" fill="#41818c" stroke="rgba(255,255,255,0.12)" stroke-width="0.25"/>
<path d="M90.54,51.73L93.30,51.03L93.30,53.30L91.31,53.12L90.23,53.12L90.23,52.60Z" fill="#414883" stroke="rgba(255,255,255,0.12)" stroke-width="0.25"/>
<path d="M72.12,51.38L72.43,50.50L73.66,49.98L74.12,49.62L74.89,48.58L75.65,49.10L77.19,49.80L78.72,50.15L79.18,51.03L80.26,51.20L81.49,51.55L82.25,52.25L82.71,53.48L82.56,54.53L82.25,54.70L81.02,55.05L79.80,55.40L79.18,55.92L77.95,55.23L76.42,54.70L74.89,54.35L73.35,54.70L72.12,55.40L72.58,54.00L73.66,53.30L73.35,51.90Z" fill="#4ca889" stroke="rgba(255,255,255,0.12)" stroke-width="0.25"/>
<path d="M54.16,50.67L54.16,49.28L54.32,47.70L55.39,47.53L56.93,48.58L59.07,48.92L60.76,47.35L61.53,47.53L62.61,47.00L63.37,47.70L64.60,49.10L65.67,49.62L66.60,49.62L67.98,49.62L69.05,49.98L70.89,50.50L69.97,51.38L68.75,52.60L67.98,53.30L67.21,54.00L66.60,55.05L66.29,55.75L67.06,56.45L67.67,56.98L66.60,57.85L65.98,58.20L65.52,58.55L64.14,57.33L63.22,58.20L62.30,59.78L60.76,61.17L60.15,60.48L59.23,59.25L58.46,58.20L57.23,57.33L56.47,56.80L56.31,55.75L56.16,54.35L55.39,52.60Z" fill="#4aa38a" stroke="rgba(255,255,255,0.12)" stroke-width="0.25"/>
<path d="M70.89,50.50L72.12,51.38L73.35,51.90L73.66,53.30L72.58,54.00L72.12,55.40L71.51,56.80L70.74,57.33L69.51,56.45L68.75,56.98L67.67,56.98L67.06,56.45L66.29,55.75L66.60,55.05L67.21,54.00L67.98,53.30L68.75,52.60L69.97,51.38Z" fill="#54b584" stroke="rgba(255,255,255,0.12)" stroke-width="0.25"/>
<path d="M67.67,56.98L68.75,56.98L69.51,56.45L70.74,57.33L71.51,56.80L72.58,57.85L72.28,59.60L72.43,60.83L71.81,61.70L70.28,62.23L69.51,62.58L67.98,63.10L66.44,63.62L65.98,63.45L65.06,62.58L64.60,60.83L64.14,59.25L65.52,58.55L65.98,58.20L66.60,57.85Z" fill="#56b883" stroke="rgba(255,255,255,0.12)" stroke-width="0.25"/>
<path d="M56.31,55.75L56.47,56.80L57.23,57.33L58.46,58.20L59.23,59.25L60.15,60.48L60.76,61.17L62.30,59.78L63.22,58.20L64.14,57.33L65.52,58.55L64.14,59.25L64.60,60.83L65.06,62.58L65.98,63.45L66.44,64.85L66.60,66.08L66.60,68.35L58.00,75.35L50.33,68.35L53.86,57.85L54.62,57.50L55.70,56.98Z" fill="#89dc66" stroke="rgba(255,255,255,0.12)" stroke-width="0.25"/>
<path d="M71.51,56.80L72.12,55.40L73.35,54.70L74.89,54.35L76.42,54.70L77.95,55.23L79.18,55.92L79.80,55.40L79.34,56.98L79.64,58.73L79.18,60.48L79.49,62.23L79.34,62.40L77.95,63.10L76.88,63.45L76.11,63.45L75.65,63.45L74.89,62.23L74.12,61.35L72.58,61.35L71.81,61.70L72.43,60.83L72.28,59.60L72.58,57.85Z" fill="#6bcb76" stroke="rgba(255,255,255,0.12)" stroke-width="0.25"/>
<path d="M79.80,55.40L81.02,55.05L82.25,54.70L82.56,54.53L83.79,55.05L84.86,55.40L85.63,55.23L86.40,56.45L86.09,57.50L84.86,58.73L84.09,59.60L83.33,60.83L82.87,62.23L82.56,63.10L82.25,63.80L81.02,63.80L80.26,63.98L79.80,63.10L79.34,62.40L79.49,62.23L79.18,60.48L79.64,58.73L79.34,56.98Z" fill="#b4ea54" stroke="rgba(255,255,255,0.12)" stroke-width="0.25"/>
<path d="M85.63,55.23L86.40,54.35L87.47,53.48L87.93,52.42L88.09,52.42L89.47,52.78L90.23,53.12L91.31,53.12L93.30,53.30L93.30,59.60L89.62,59.25L89.01,59.08L88.09,58.55L87.16,58.38L86.09,57.50L86.40,56.45Z" fill="#a8e658" stroke="rgba(255,255,255,0.12)" stroke-width="0.25"/>
<path d="M86.09,57.50L87.16,58.38L88.09,58.55L89.01,59.08L89.62,59.25L93.30,59.60L87.16,68.35L84.40,65.72L84.09,65.38L83.33,64.33L82.25,63.80L82.56,63.10L82.87,62.23L83.33,60.83L84.09,59.60L84.86,58.73Z" fill="#e2f34f" stroke="rgba(255,255,255,0.12)" stroke-width="0.25"/>
<path d="M76.11,63.45L76.88,63.45L77.95,63.10L79.34,62.40L79.80,63.10L80.26,63.98L81.02,63.80L82.25,63.80L83.33,64.33L84.09,65.38L84.40,65.72L87.16,68.35L76.42,75.35L72.28,72.55L72.74,69.05L73.35,68.35L74.58,67.47L75.65,66.25L75.65,64.85Z" fill="#7fd76b" stroke="rgba(255,255,255,0.12)" stroke-width="0.25"/>
<path d="M65.98,63.45L66.44,63.62L67.98,63.10L69.51,62.58L70.28,62.23L71.81,61.70L72.58,61.35L74.12,61.35L74.89,62.23L75.65,63.45L76.11,63.45L75.65,64.85L75.65,66.25L74.58,67.47L73.35,68.35L72.74,69.05L71.05,73.60L66.60,68.35L66.60,66.08L66.44,64.85Z" fill="#aee856" stroke="rgba(255,255,255,0.12)" stroke-width="0.25"/>
<path d="M81.79,36.85L82.56,35.62L83.79,35.10L84.71,35.80L84.40,36.67L83.48,37.38L82.71,37.73L81.95,37.55Z" fill="#56b883" stroke="rgba(255,255,255,0.12)" stroke-width="0.25"/>
<path d="M84.40,36.50L85.02,36.85L85.32,37.73L85.78,38.42L85.17,39.30L84.56,39.48L83.94,38.78L84.25,37.90Z" fill="#42407f" stroke="rgba(255,255,255,0.12)" stroke-width="0.25"/>
</g>
<path d="M71.20,73.25L71.35,74.47L72.74,75.00L74.12,74.12L74.89,72.55L74.27,71.67L72.89,71.85L71.97,72.20Z" fill="#98e15f"/>
<path d="M90.23,62.92L91.62,63.10L91.16,65.72L89.93,68.35L89.01,66.95L88.85,65.20L89.77,63.62Z" fill="#999999"/>
</g>
</defs>
<g transform="translate(0,0)"><use href="#grid"/><use href="#m7"/></g>
<text x="61.30" y="5.00" text-anchor="middle" font-size="6.6" fill="#222" stroke="#222" stroke-width="0.1">Forest Coverage 2006</text>
<text transform="translate(0.22,104.45) scale(1.059,1.000)" font-size="10.2" font-weight="bold" fill="#ff0000" stroke="#ff0000" stroke-width="0.45" stroke-linejoin="round" vector-effect="non-scaling-stroke">A</text>
<g transform="translate(141.9,0)"><use href="#grid"/><use href="#m7"/></g>
<text x="203.20" y="5.00" text-anchor="middle" font-size="6.6" fill="#222" stroke="#222" stroke-width="0.1">Forest Coverage 2007</text>
<text transform="translate(142.63,104.45) scale(0.933,1.000)" font-size="10.2" font-weight="bold" fill="#ff0000" stroke="#ff0000" stroke-width="0.45" stroke-linejoin="round" vector-effect="non-scaling-stroke">B</text>
<g transform="translate(283.7,0)"><use href="#grid"/><use href="#m7"/></g>
<text x="345.00" y="5.00" text-anchor="middle" font-size="6.6" fill="#222" stroke="#222" stroke-width="0.1">Forest Coverage 2008</text>
<text transform="translate(284.28,104.45) scale(0.944,1.000)" font-size="10.2" font-weight="bold" fill="#ff0000" stroke="#ff0000" stroke-width="0.45" stroke-linejoin="round" vector-effect="non-scaling-stroke">C</text>
<g transform="translate(425.6,0)"><use href="#grid"/><use href="#m8"/></g>
<text x="486.90" y="5.00" text-anchor="middle" font-size="6.6" fill="#222" stroke="#222" stroke-width="0.1">Forest Coverage 2009</text>
<text transform="translate(426.31,104.45) scale(1.096,1.000)" font-size="10.2" font-weight="bold" fill="#ff0000" stroke="#ff0000" stroke-width="0.45" stroke-linejoin="round" vector-effect="non-scaling-stroke">D</text>
<g transform="translate(567.4,0)"><use href="#grid"/><use href="#m8"/></g>
<text x="628.70" y="5.00" text-anchor="middle" font-size="6.6" fill="#222" stroke="#222" stroke-width="0.1">Forest Coverage 2010</text>
<text transform="translate(568.56,104.45) scale(0.880,1.000)" font-size="10.2" font-weight="bold" fill="#ff0000" stroke="#ff0000" stroke-width="0.45" stroke-linejoin="round" vector-effect="non-scaling-stroke">E</text>
<g transform="translate(0,136.9)"><use href="#grid"/><use href="#m8"/></g>
<text x="61.30" y="141.90" text-anchor="middle" font-size="6.6" fill="#222" stroke="#222" stroke-width="0.1">Forest Coverage 2011</text>
<text transform="translate(0.39,241.35) scale(0.976,1.000)" font-size="10.2" font-weight="bold" fill="#ff0000" stroke="#ff0000" stroke-width="0.45" stroke-linejoin="round" vector-effect="non-scaling-stroke">F</text>
<g transform="translate(141.9,136.9)"><use href="#grid"/><use href="#m8"/></g>
<text x="203.20" y="141.90" text-anchor="middle" font-size="6.6" fill="#222" stroke="#222" stroke-width="0.1">Forest Coverage 2012</text>
<text transform="translate(142.24,241.35) scale(1.022,1.000)" font-size="10.2" font-weight="bold" fill="#ff0000" stroke="#ff0000" stroke-width="0.45" stroke-linejoin="round" vector-effect="non-scaling-stroke">G</text>
<g transform="translate(283.7,136.9)"><use href="#grid"/><use href="#m8"/></g>
<text x="345.00" y="141.90" text-anchor="middle" font-size="6.6" fill="#222" stroke="#222" stroke-width="0.1">Forest Coverage 2013</text>
<text transform="translate(284.29,241.35) scale(1.113,1.000)" font-size="10.2" font-weight="bold" fill="#ff0000" stroke="#ff0000" stroke-width="0.45" stroke-linejoin="round" vector-effect="non-scaling-stroke">H</text>
<g transform="translate(425.6,136.9)"><use href="#grid"/><use href="#m9"/></g>
<text x="486.90" y="141.90" text-anchor="middle" font-size="6.6" fill="#222" stroke="#222" stroke-width="0.1">Forest Coverage 2014</text>
<text transform="translate(426.20,241.35) scale(1.237,1.000)" font-size="10.2" font-weight="bold" fill="#ff0000" stroke="#ff0000" stroke-width="0.45" stroke-linejoin="round" vector-effect="non-scaling-stroke">I</text>
<g transform="translate(567.4,136.9)"><use href="#grid"/><use href="#m9"/></g>
<text x="628.70" y="141.90" text-anchor="middle" font-size="6.6" fill="#222" stroke="#222" stroke-width="0.1">Forest Coverage 2015</text>
<text transform="translate(567.38,242.85) scale(0.695,1.200)" font-size="10.2" font-weight="bold" fill="#ff0000" stroke="#ff0000" stroke-width="0.45" stroke-linejoin="round" vector-effect="non-scaling-stroke">J</text>
<g transform="translate(0,273.4)"><use href="#grid"/><use href="#m9"/></g>
<text x="61.30" y="278.40" text-anchor="middle" font-size="6.6" fill="#222" stroke="#222" stroke-width="0.1">Forest Coverage 2016</text>
<text transform="translate(0.36,377.85) scale(1.018,1.000)" font-size="10.2" font-weight="bold" fill="#ff0000" stroke="#ff0000" stroke-width="0.45" stroke-linejoin="round" vector-effect="non-scaling-stroke">K</text>
<g transform="translate(141.9,273.4)"><use href="#grid"/><use href="#m9"/></g>
<text x="203.20" y="278.40" text-anchor="middle" font-size="6.6" fill="#222" stroke="#222" stroke-width="0.1">Forest Coverage 2017</text>
<text transform="translate(142.41,377.85) scale(0.959,1.000)" font-size="10.2" font-weight="bold" fill="#ff0000" stroke="#ff0000" stroke-width="0.45" stroke-linejoin="round" vector-effect="non-scaling-stroke">L</text>
<g transform="translate(283.7,273.4)"><use href="#grid"/><use href="#m9"/></g>
<text x="345.00" y="278.40" text-anchor="middle" font-size="6.6" fill="#222" stroke="#222" stroke-width="0.1">Forest Coverage 2018</text>
<text transform="translate(284.30,377.85) scale(1.111,1.000)" font-size="10.2" font-weight="bold" fill="#ff0000" stroke="#ff0000" stroke-width="0.45" stroke-linejoin="round" vector-effect="non-scaling-stroke">M</text>
<g transform="translate(414.51,278.73) scale(0.908)"><use href="#grid"/><use href="#m9"/></g>
<defs><linearGradient id="vg" x1="0" y1="1" x2="0" y2="0">
<stop offset="0.0" stop-color="#3e0851"/>
<stop offset="0.1" stop-color="#432870"/>
<stop offset="0.2" stop-color="#414883"/>
<stop offset="0.3" stop-color="#3f6489"/>
<stop offset="0.4" stop-color="#417f8c"/>
<stop offset="0.5" stop-color="#46988c"/>
<stop offset="0.6" stop-color="#51b186"/>
<stop offset="0.7" stop-color="#69ca78"/>
<stop offset="0.8" stop-color="#8fde63"/>
<stop offset="0.9" stop-color="#c4ed50"/>
<stop offset="1.0" stop-color="#faf855"/>
</linearGradient></defs>
<text x="524.0" y="320.8" font-size="2.65" fill="#222" stroke="#222" stroke-width="0.04">Forest coverage rate (%)</text>
<rect x="524.2" y="322.1" width="4.1" height="20.6" fill="url(#vg)"/>
<text x="529.6" y="343.70" font-size="2.5" fill="#333" stroke="#333" stroke-width="0.1">0%</text>
<text x="529.6" y="340.76" font-size="2.5" fill="#333" stroke="#333" stroke-width="0.1">10%</text>
<text x="529.6" y="337.81" font-size="2.5" fill="#333" stroke="#333" stroke-width="0.1">20%</text>
<text x="529.6" y="334.87" font-size="2.5" fill="#333" stroke="#333" stroke-width="0.1">30%</text>
<text x="529.6" y="331.93" font-size="2.5" fill="#333" stroke="#333" stroke-width="0.1">40%</text>
<text x="529.6" y="328.99" font-size="2.5" fill="#333" stroke="#333" stroke-width="0.1">50%</text>
<text x="529.6" y="326.04" font-size="2.5" fill="#333" stroke="#333" stroke-width="0.1">60%</text>
<text x="529.6" y="323.10" font-size="2.5" fill="#333" stroke="#333" stroke-width="0.1">70%</text>
<text x="486.90" y="278.40" text-anchor="middle" font-size="6.6" fill="#222" stroke="#222" stroke-width="0.1">Forest Coverage 2019</text>
<text transform="translate(426.41,377.85) scale(1.096,1.000)" font-size="10.2" font-weight="bold" fill="#ff0000" stroke="#ff0000" stroke-width="0.45" stroke-linejoin="round" vector-effect="non-scaling-stroke">N</text>
</svg></body></html>
